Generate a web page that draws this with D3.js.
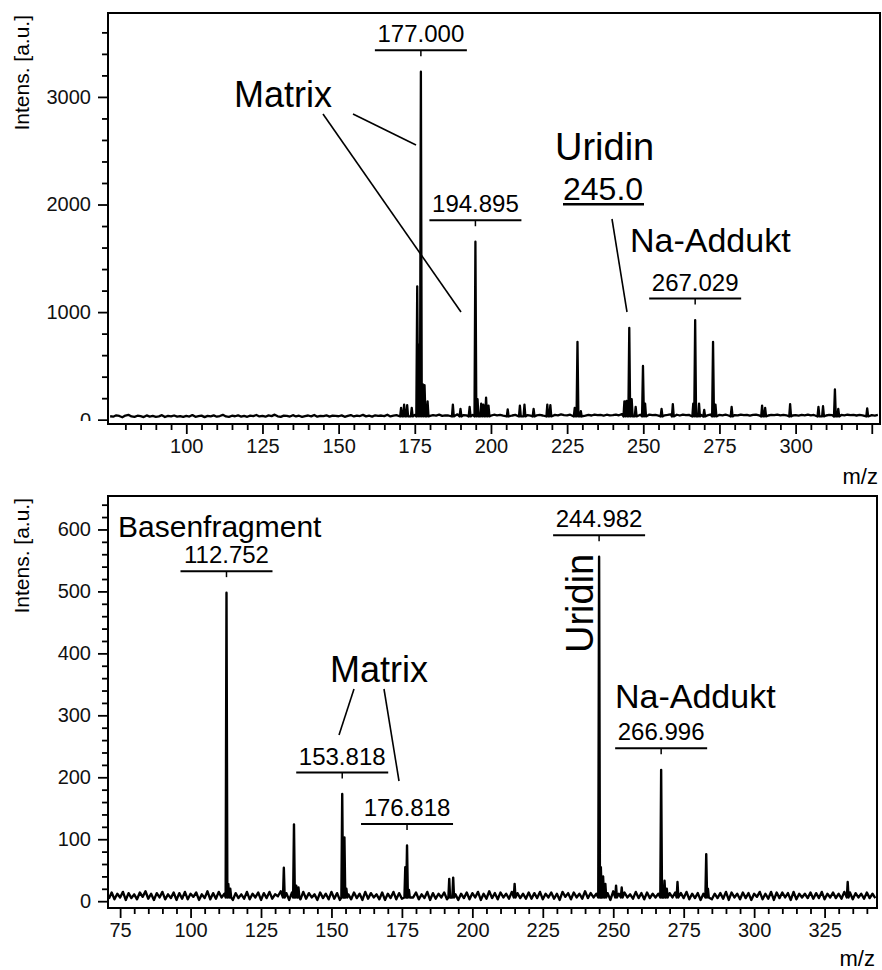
<!DOCTYPE html>
<html>
<head>
<meta charset="utf-8">
<script src="https://cdn.jsdelivr.net/npm/d3@7"></script>
<style>
  body { margin: 0; background: #fff; }
  svg { display: block; font-family: "Liberation Sans", Arial, Helvetica, sans-serif; }
</style>
</head>
<body>
<svg id="chart" width="882" height="970"></svg>
<script>
// ---- data: upper spectrum (m/z, intensity) ----
const topNoiseStart = 75
const topNoise = [
  32,28,41,35,22,38,45,30,26,37,33,24,40,29,35,27,31,42,25,36,30,39,28,34,26,
  35,29,43,27,33,38,24,36,31,40,28,34,45,30,26,37,32,41,29,35,27,38,33,44,30,
  36,28,40,33,47,31,26,38,35,29,42,30,37,27,34,39,31,44,28,36,33,41,29,38,35,
  32,40,27,36,43,30,38,34,45,31,37,29,41,35,39,33,46,30,38,42,36,34,40,48,37,
  45,52,48,40,44,36,42,38,47,35,41,39,44,37,50,36,43,40,38,45,39,47,42,55,41,
  38,46,40,44,37,49,42,39,45,36,48,41,43,38,46,40,44,39,47,42,38,45,41,49,43,
  40,46,38,44,50,41,37,45,39,47,42,44,38,46,40,43,48,41,52,45,50,47,43,39,46,
  44,40,48,42,45,38,47,41,44,50,43,46,39,48,42,45,41,47,50,44,46,40,48,49,43,
  45,41,47,39,46,43,40,48,42,45,38,44,47,41,43,46,39,45,42,48,40,44,41,46,39,
  43,38,45,41,47,40,44,42,48,46,39,45,43,41,47,44,40,46,42,45,39,44,41,43,40,
  42,38,44
]
const topPeaks = [
  [170.5, 110], [171.5, 140], [172.5, 135], [174, 110], [175.8, 1240], [176.4, 700],
  [177.0, 3235], [177.6, 330], [178.2, 320], [179.2, 170], [187.5, 140], [190, 100],
  [193, 120], [194.9, 1654], [195.6, 190], [196.8, 150], [197.5, 140], [198.4, 205],
  [199.2, 130], [205.5, 95], [209.5, 130], [211, 140], [214, 100], [218.5, 140],
  [219.5, 135], [227.5, 110], [228.4, 724], [229.5, 80], [243.8, 170], [244.5, 175],
  [245.4, 854], [246.2, 190], [247.5, 120], [249.9, 500], [250.6, 150], [256, 100],
  [259.7, 145], [266.4, 150], [267.03, 926], [268.3, 150], [270, 90], [272.9, 724],
  [273.7, 140], [279, 120], [289, 130], [290, 110], [298.2, 145], [307.5, 120],
  [309, 125], [312.9, 281], [314, 100], [323.5, 105]
]
const topLabels = [["177.000", 177.0, 3235], ["194.895", 194.9, 1654], ["267.029", 267.03, 926]]
const topXTicks = [100, 125, 150, 175, 200, 225, 250, 275, 300, 325]
const topYTicks = [0, 1000, 2000, 3000]

// ---- data: lower spectrum ----
const bottomNoiseStart = 71
const bottomNoise = [
  4,14,3,12,6,15,2,13,5,11,3,14,7,16,4,12,2,13,6,15,3,11,5,14,2,
  13,4,15,3,12,7,14,2,11,5,16,3,13,4,15,6,12,3,14,2,13,5,11,4,15,
  3,12,6,14,2,13,5,15,4,11,8,16,6,13,2,14,5,12,3,15,4,13,6,11,2,
  14,5,12,3,15,4,13,2,16,6,11,3,14,5,12,2,15,4,13,6,11,3,14,2,12,
  5,15,3,13,4,16,2,12,6,14,3,11,5,15,2,13,4,12,6,14,3,16,5,11,2,
  12,5,14,3,13,6,15,2,12,4,16,5,13,3,14,6,12,4,15,3,13,5,12,4,14,
  4,13,5,15,3,12,6,14,4,12,2,15,7,13,3,14,6,12,4,16,5,13,6,12,3,
  15,4,13,2,16,5,12,3,14,6,11,4,15,5,13,3,14,5,12,6,12,2,15,3,13,
  6,14,2,13,5,15,3,12,5,13,2,12,6,14,3,12,5,13,4,15,2,14,6,12,3,
  14,5,13,2,12,7,15,3,12,4,15,2,14,5,14,6,13,2,15,3,12,6,12,5,14,
  4,13,5,15,3,12,6,14,5,12,4,15,5,14,3,13,6,12,4,14,5,12,5
]
const bottomPeaks = [
  [112.75, 498], [113.4, 28], [114.1, 20], [133.1, 54], [136.7, 124], [137.5, 25],
  [138.3, 22], [153.82, 173], [154.6, 103], [155.3, 20], [176.2, 55], [176.82, 90],
  [177.5, 18], [191.8, 36], [193.2, 38], [215, 28], [244.98, 556], [245.6, 55],
  [246.4, 40], [247.2, 28], [251, 25], [253, 22], [267.0, 212], [268.2, 33],
  [269, 20], [272.8, 31], [283, 76], [283.6, 20], [333.2, 31]
]
const bottomLabels = [
  ["112.752", 112.75, 498], ["153.818", 153.82, 173], ["176.818", 176.82, 90],
  ["244.982", 244.98, 556], ["266.996", 267.0, 212]
]
const bottomXTicks = [75, 100, 125, 150, 175, 200, 225, 250, 275, 300, 325]
const bottomYTicks = [0, 100, 200, 300, 400, 500, 600]

const svg = d3.select("#chart")
const FONT_TICK = 20
const FONT_PEAK = 24

// noise samples plus narrow spikes for the peaks
function spectrumPoints(start, noise, peaks, base) {
  const pts = noise
    .map((v, i) => [start + i, v])
    .filter(([m]) => !peaks.some(([pm]) => Math.abs(pm - m) < 0.6))
  peaks.forEach(([m, h]) => {
    pts.push([m - 0.3, base], [m, h], [m + 0.3, base])
  })
  return pts.sort((a, b) => a[0] - b[0])
}

function drawPanel(p) {
  const x = d3.scaleLinear().domain(p.xDomain).range([p.left, p.right])
  const y = d3.scaleLinear().domain(p.yDomain).range([p.bottom, p.top])

  svg.append("clipPath").attr("id", "clip-" + p.id)
    .append("rect")
    .attr("x", p.left).attr("y", p.top)
    .attr("width", p.right - p.left).attr("height", p.bottom - p.top)

  const line = d3.line().x((d) => x(d[0])).y((d) => y(d[1]))
  svg.append("path")
    .datum(spectrumPoints(p.noiseStart, p.noise, p.peaks, p.base))
    .attr("clip-path", `url(#clip-${p.id})`)
    .attr("fill", "none")
    .attr("stroke", "#000")
    .attr("stroke-width", p.lineW)
    .attr("stroke-linejoin", "round")
    .attr("d", line)

  // y axis (major + minor)
  const yWrap = svg.append("g")
  if (p.yClip) {
    svg.append("clipPath").attr("id", "yclip-" + p.id)
      .append("rect").attr("x", 0).attr("y", 0).attr("width", p.left).attr("height", p.yClip)
    yWrap.attr("clip-path", `url(#yclip-${p.id})`)
  }
  yWrap.append("g")
    .attr("transform", `translate(${p.left},0)`)
    .call(d3.axisLeft(y).tickValues(p.yMinor).tickSize(6).tickFormat(""))
  yWrap.append("g")
    .attr("transform", `translate(${p.left},0)`)
    .call(d3.axisLeft(y).tickValues(p.yTicks).tickSize(10).tickPadding(7).tickFormat(d3.format("d")))

  // x axis (major + minor)
  const xg = svg.append("g")
  xg.append("g")
    .attr("transform", `translate(0,${p.bottom})`)
    .call(d3.axisBottom(x).tickValues(p.xMinor).tickSize(6).tickFormat(""))
  xg.append("g")
    .attr("transform", `translate(0,${p.bottom})`)
    .call(d3.axisBottom(x).tickValues(p.xTicks).tickSize(10).tickPadding(5)
      .tickFormat((d) => (p.xHidden.includes(d) ? "" : d)))

  svg.selectAll(".domain").remove()
  svg.selectAll(".tick line").attr("stroke", "#000").attr("stroke-width", 1.8)
  svg.selectAll(".tick text").attr("fill", "#111").attr("font-size", FONT_TICK)
    .attr("font-family", "Liberation Sans, Arial, sans-serif")

  // frame
  svg.append("rect")
    .attr("x", p.left).attr("y", p.top)
    .attr("width", p.right - p.left).attr("height", p.bottom - p.top)
    .attr("fill", "none").attr("stroke", "#000").attr("stroke-width", 2)

  // axis titles
  svg.append("text")
    .attr("transform", `translate(29,${p.top + 2}) rotate(-90)`)
    .attr("text-anchor", "end")
    .attr("font-size", 21)
    .text("Intens. [a.u.]")
  svg.append("text")
    .attr("x", p.right - 2).attr("y", p.mzY)
    .attr("text-anchor", "end")
    .attr("font-size", 22)
    .text("m/z")

  // peak labels with bracket
  p.labels.forEach(([txt, m, h]) => {
    const cx = x(m)
    const by = y(h) - 21.5
    svg.append("line").attr("x1", cx - 46).attr("x2", cx + 46).attr("y1", by).attr("y2", by)
      .attr("stroke", "#000").attr("stroke-width", 2)
    svg.append("line").attr("x1", cx).attr("x2", cx).attr("y1", by).attr("y2", by + 6)
      .attr("stroke", "#000").attr("stroke-width", 1.5)
    svg.append("text").attr("x", cx).attr("y", by - 8)
      .attr("text-anchor", "middle").attr("font-size", FONT_PEAK).text(txt)
  })
}

drawPanel({
  id: "top",
  left: 108, right: 880, top: 13, bottom: 424,
  xDomain: [74.3, 327.7], yDomain: [-40, 3780],
  noiseStart: topNoiseStart, noise: topNoise, peaks: topPeaks, base: 30, lineW: 2.3,
  xTicks: topXTicks, xHidden: [325],
  xMinor: d3.range(80, 326, 5).filter((d) => d % 25 !== 0),
  yTicks: topYTicks,
  yMinor: d3.range(200, 3700, 200).filter((d) => d % 1000 !== 0),
  yClip: 421,
  mzY: 484,
  labels: topLabels
})

drawPanel({
  id: "bottom",
  left: 108, right: 877, top: 496, bottom: 908,
  xDomain: [70.7, 343.6], yDomain: [-11, 654],
  noiseStart: bottomNoiseStart, noise: bottomNoise, peaks: bottomPeaks, base: 6, lineW: 2.4,
  xTicks: bottomXTicks, xHidden: [],
  xMinor: d3.range(80, 341, 5).filter((d) => d % 25 !== 0),
  yTicks: bottomYTicks,
  yMinor: d3.range(20, 650, 20).filter((d) => d % 100 !== 0),
  yClip: null,
  mzY: 966,
  labels: bottomLabels
})

// ---- free annotations ----
const note = (x, y, size, txt) =>
  svg.append("text").attr("x", x).attr("y", y).attr("font-size", size).text(txt)
const pointer = (x1, y1, x2, y2) =>
  svg.append("line").attr("x1", x1).attr("y1", y1).attr("x2", x2).attr("y2", y2)
    .attr("stroke", "#000").attr("stroke-width", 1.6)

// upper panel
note(234, 107, 36, "Matrix")
pointer(353, 114, 416, 145)
pointer(323, 114, 461, 312)
note(555, 160, 38, "Uridin")
note(563, 199.5, 32, "245.0")
svg.append("line").attr("x1", 563).attr("x2", 644).attr("y1", 204.3).attr("y2", 204.3)
  .attr("stroke", "#000").attr("stroke-width", 2.5)
pointer(612, 219, 627, 312)
note(630, 251.7, 34, "Na-Addukt")

// lower panel
note(118, 536.5, 30, "Basenfragment")
note(330, 681.7, 36, "Matrix")
pointer(354, 689, 339, 735)
pointer(384, 689, 399, 781)
svg.append("text")
  .attr("transform", "translate(593,653) rotate(-90)")
  .attr("font-size", 38)
  .text("Uridin")
note(615, 708, 34, "Na-Addukt")
</script>
</body>
</html>
